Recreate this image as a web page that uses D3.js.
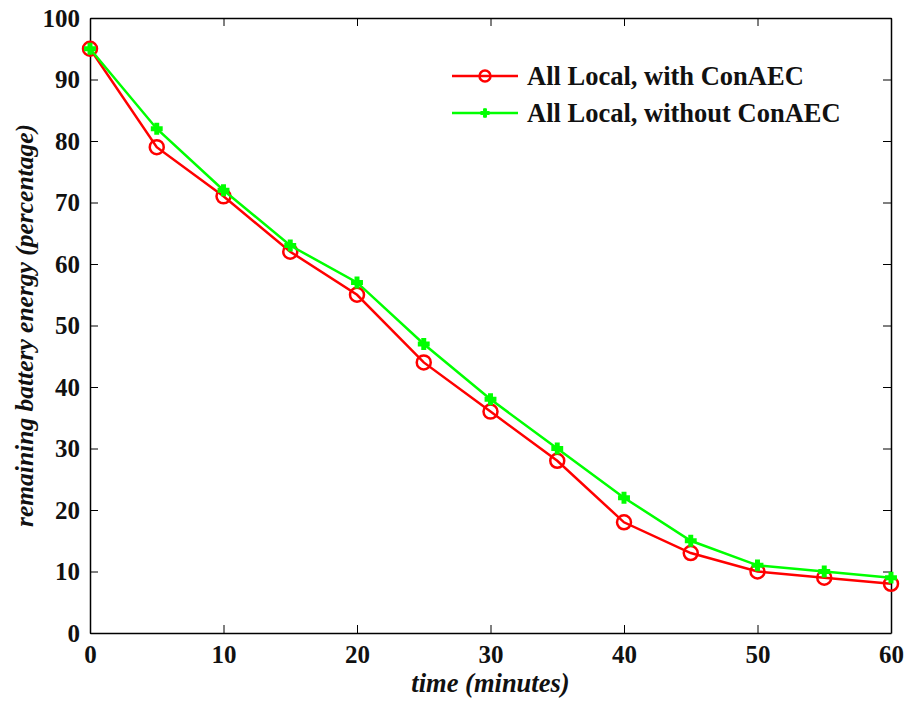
<!DOCTYPE html>
<html>
<head>
<meta charset="utf-8">
<script src="https://cdn.jsdelivr.net/npm/d3@7"></script>
<style>
	body { margin: 0; background: #fff; }
	text { font-family: "Liberation Serif", "DejaVu Serif", serif; font-weight: bold; fill: #111; }
	.axis path, .axis line { stroke: #000; }
</style>
</head>
<body>
<div class="chart"></div>
<script>
const minutes = [0, 5, 10, 15, 20, 25, 30, 35, 40, 45, 50, 55, 60];
const withConAEC = [95, 79, 71, 62, 55, 44, 36, 28, 18, 13, 10, 9, 8];
const withoutConAEC = [95, 82, 72, 63, 57, 47, 38, 30, 22, 15, 11, 10, 9];
const xTicks = [0, 10, 20, 30, 40, 50, 60];
const yTicks = [0, 10, 20, 30, 40, 50, 60, 70, 80, 90, 100];
const seriesNames = ['All Local, with ConAEC', 'All Local, without ConAEC'];

const outerW = 909,
	outerH = 702;

const margin = { left: 90, right: 18, top: 18, bottom: 69 };
const w = outerW - margin.left - margin.right,
	h = outerH - margin.top - margin.bottom;

const svg = d3.select('.chart').append('svg')
	.attr('width', outerW)
	.attr('height', outerH);

const g = svg.append('g')
	.attr('transform', `translate(${margin.left}, ${margin.top})`);

const x = d3.scaleLinear().domain([0, 60]).range([0, w]);
const y = d3.scaleLinear().domain([0, 100]).range([h, 0]);

// axes with inward ticks, mirrored on top/right
g.append('g').attr('class', 'axis')
	.attr('transform', `translate(0, ${h})`)
	.call(d3.axisBottom(x).tickValues(xTicks).tickSize(-8).tickSizeOuter(0).tickPadding(12))
	.call(a => a.selectAll('text').style('font-size', '25px'));

g.append('g').attr('class', 'axis')
	.call(d3.axisLeft(y).tickValues(yTicks).tickSize(-8).tickSizeOuter(0).tickPadding(10))
	.call(a => a.selectAll('text').style('font-size', '25px'));

g.append('g').attr('class', 'axis')
	.call(d3.axisTop(x).tickValues(xTicks).tickSize(-8).tickSizeOuter(0).tickFormat(''));

g.append('g').attr('class', 'axis')
	.attr('transform', `translate(${w}, 0)`)
	.call(d3.axisRight(y).tickValues(yTicks).tickSize(-8).tickSizeOuter(0).tickFormat(''));

g.selectAll('.axis path').attr('stroke-width', 1.5);

const line = d3.line()
	.x((d, i) => x(minutes[i]))
	.y(d => y(d));

// red series
g.append('path')
	.datum(withConAEC)
	.attr('d', line)
	.attr('fill', 'none')
	.attr('stroke', '#ff0000')
	.attr('stroke-width', 2.5);

g.selectAll('.red-dot')
	.data(withConAEC)
	.enter().append('circle')
	.attr('class', 'red-dot')
	.attr('cx', (d, i) => x(minutes[i]))
	.attr('cy', d => y(d))
	.attr('r', 7)
	.attr('fill', 'none')
	.attr('stroke', '#ff0000')
	.attr('stroke-width', 2.5);

// green series
g.append('path')
	.datum(withoutConAEC)
	.attr('d', line)
	.attr('fill', 'none')
	.attr('stroke', '#00ff00')
	.attr('stroke-width', 2.5);

const star = d3.symbol().type(d3.symbolCross).size(60);

g.selectAll('.green-dot')
	.data(withoutConAEC)
	.enter().append('path')
	.attr('class', 'green-dot')
	.attr('transform', (d, i) => `translate(${x(minutes[i])}, ${y(d)})`)
	.attr('d', star)
	.attr('fill', '#00ff00')
	.attr('stroke', '#00ff00')
	.attr('stroke-width', 1.5);

// legend
const legend = g.append('g')
	.attr('transform', 'translate(362, 58)');

seriesNames.forEach((name, i) => {
	const row = legend.append('g').attr('transform', `translate(0, ${i * 37})`);
	const col = i === 0 ? '#ff0000' : '#00ff00';
	row.append('line')
		.attr('x1', 0).attr('x2', 66)
		.attr('stroke', col)
		.attr('stroke-width', 2.5);
	if (i === 0) {
		row.append('circle')
			.attr('cx', 33).attr('r', 5.5)
			.attr('fill', 'none')
			.attr('stroke', col)
			.attr('stroke-width', 2.5);
	} else {
		row.append('path')
			.attr('transform', 'translate(33, 0)')
			.attr('d', d3.symbol().type(d3.symbolCross).size(40))
			.attr('fill', col)
			.attr('stroke', col);
	}
	row.append('text')
		.attr('x', 75)
		.attr('dy', '0.35em')
		.style('font-size', '26.5px')
		.text(name);
});

// axis titles
svg.append('text')
	.attr('x', margin.left + w / 2)
	.attr('y', 692)
	.attr('text-anchor', 'middle')
	.style('font-size', '26.5px')
	.style('font-style', 'italic')
	.text('time (minutes)');

svg.append('text')
	.attr('transform', `translate(33, ${margin.top + h / 2}) rotate(-90)`)
	.attr('text-anchor', 'middle')
	.style('font-size', '25.5px')
	.style('font-style', 'italic')
	.text('remaining battery energy (percentage)');
</script>
</body>
</html>
